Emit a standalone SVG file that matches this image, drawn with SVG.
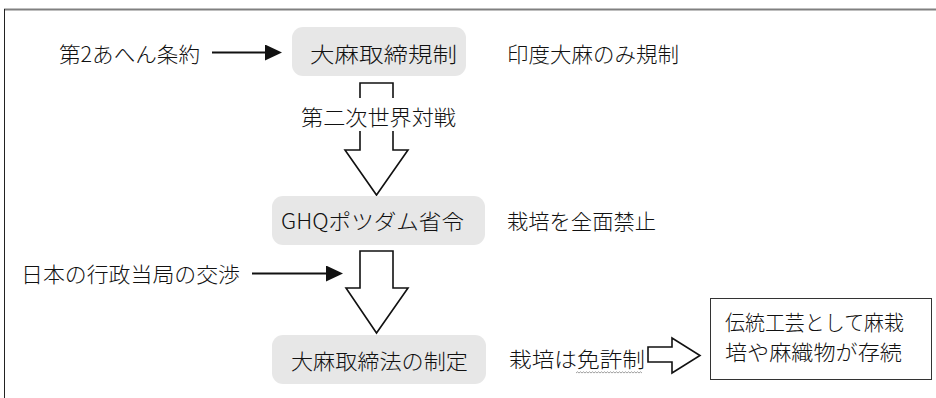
<svg xmlns="http://www.w3.org/2000/svg" width="936" height="398" viewBox="0 0 936 398">
<defs>
<style>
text{font-family:"Noto Sans CJK JP","Liberation Sans",sans-serif;font-size:21px;font-weight:300;fill:#111;dominant-baseline:central}
.node{fill:#e7e7e7;stroke:none}
.block{fill:#fff;stroke:#111;stroke-width:1.6;stroke-linejoin:miter}
.line{stroke:#111;stroke-width:2;fill:none}
</style>
<marker id="ah" markerWidth="17" markerHeight="16" refX="0" refY="8" orient="auto" markerUnits="userSpaceOnUse">
<path d="M0,0 L17,8 L0,16 Z" fill="#111"/>
</marker>
</defs>
<rect width="936" height="398" fill="#fff"/>
<g id="frame">
<line x1="4" y1="9.5" x2="936" y2="9.5" stroke="#808080" stroke-width="2"/>
<line x1="4.5" y1="9" x2="4.5" y2="398" stroke="#222" stroke-width="1"/>
</g>
<g id="connectors">
<line class="line" x1="212" y1="52.5" x2="265" y2="52.5" marker-end="url(#ah)"/>
<line class="line" x1="252" y1="273.5" x2="326" y2="273.5" marker-end="url(#ah)"/>
<polygon class="block" points="360,83 393,83 393,150 408,150 376.5,195 345,150 360,150"/>
<rect x="299" y="98" width="160" height="33" fill="#fff"/>
<text x="301" y="115.5" textLength="155" lengthAdjust="spacingAndGlyphs">第二次世界対戦</text>
<polygon class="block" points="360,251 393,251 393,288 408,288 376.5,333 346,288 360,288"/>
<polygon class="block" points="648,347 672,347 672,338 700,355.5 672,373 672,362 648,362"/>
</g>
<g id="src1">
<text x="59" y="52.5" textLength="141" lengthAdjust="spacingAndGlyphs">第2あへん条約</text>
</g>
<g id="node1">
<rect class="node" x="292" y="27" width="174" height="49" rx="11"/>
<text x="310" y="52.5" textLength="147" lengthAdjust="spacingAndGlyphs">大麻取締規制</text>
</g>
<g id="note1">
<text x="507" y="52.5" textLength="172" lengthAdjust="spacingAndGlyphs">印度大麻のみ規制</text>
</g>
<g id="node2">
<rect class="node" x="272" y="196" width="213" height="49" rx="11"/>
<text x="281" y="219.5" textLength="183" lengthAdjust="spacingAndGlyphs">GHQポツダム省令</text>
</g>
<g id="note2">
<text x="507" y="219.5" textLength="149" lengthAdjust="spacingAndGlyphs">栽培を全面禁止</text>
</g>
<g id="src2">
<text x="21" y="272.5" textLength="219" lengthAdjust="spacingAndGlyphs">日本の行政当局の交渉</text>
</g>
<g id="node3">
<rect class="node" x="272" y="335" width="214" height="49" rx="11"/>
<text x="291" y="360" textLength="177" lengthAdjust="spacingAndGlyphs">大麻取締法の制定</text>
</g>
<g id="note3">
<text x="509" y="358" textLength="136" lengthAdjust="spacingAndGlyphs">栽培は免許制</text>
<path d="M576,373 l1.5,-1.2 l1.5,1.2 l1.5,-1.2 l1.5,1.2 l1.5,-1.2 l1.5,1.2 l1.5,-1.2 l1.5,1.2 l1.5,-1.2 l1.5,1.2 l1.5,-1.2 l1.5,1.2 l1.5,-1.2 l1.5,1.2 l1.5,-1.2 l1.5,1.2 l1.5,-1.2 l1.5,1.2 l1.5,-1.2 l1.5,1.2 l1.5,-1.2 l1.5,1.2 l1.5,-1.2 l1.5,1.2 l1.5,-1.2 l1.5,1.2 l1.5,-1.2 l1.5,1.2 l1.5,-1.2 l1.5,1.2 l1.5,-1.2 l1.5,1.2 l1.5,-1.2 l1.5,1.2 l1.5,-1.2 l1.5,1.2 l1.5,-1.2 l1.5,1.2 l1.5,-1.2 l1.5,1.2 l1.5,-1.2 l1.5,1.2 l1.5,-1.2 l1.5,1.2" fill="none" stroke="#888" stroke-width="0.8"/>
</g>
<g id="result">
<rect x="710.5" y="298.5" width="221" height="81" fill="#fff" stroke="#333" stroke-width="1"/>
<text x="725" y="321" textLength="179" lengthAdjust="spacingAndGlyphs">伝統工芸として麻栽</text>
<text x="725" y="351" textLength="177" lengthAdjust="spacingAndGlyphs">培や麻織物が存続</text>
</g>
</svg>
